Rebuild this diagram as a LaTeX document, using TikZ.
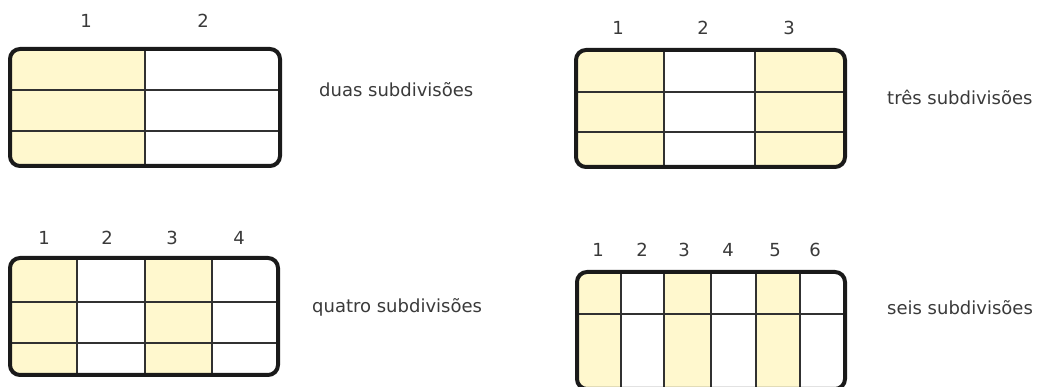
\documentclass[tikz,border=0pt]{standalone}
\usepackage{fontspec}
\setmainfont{DejaVu Sans}
\definecolor{cellfill}{HTML}{FFF8CE}
\definecolor{ink}{HTML}{1A1A1A}
\definecolor{txt}{HTML}{3A3A3A}
\tikzset{
  frame/.style={draw=ink, line width=4pt, rounded corners=10pt},
  gridline/.style={draw=ink!90, line width=1.3pt},
  num/.style={font=\fontsize{18}{21}\selectfont, text=txt, anchor=base, inner sep=0pt},
  caption/.style={font=\fontsize{18}{21}\selectfont, text=txt, anchor=base west, inner sep=0pt},
}
% #1,#2 top-left  #3,#4 bottom-right  #5 column dividers  #6 row lines  #7 shaded spans (a/b)
\newcommand\subgrid[7]{%
  \begin{scope}
    \clip[rounded corners=10pt] (#1,#2) rectangle (#3,#4);
    \foreach \a/\b in {#7} { \fill[cellfill] (\a,#2) rectangle (\b,#4); }
    \foreach \v in {#5} { \draw[gridline] (\v,#2) -- (\v,#4); }
    \foreach \h in {#6} { \draw[gridline] (#1,\h) -- (#3,\h); }
  \end{scope}
  \draw[frame] (#1,#2) rectangle (#3,#4);
}
\begin{document}
\begin{tikzpicture}[x=1pt, y=-1pt]
  \useasboundingbox[fill=white] (0,0) rectangle (1037,387);

  % two columns
  \subgrid{10}{49}{280}{166}{145}{90,131}{10/145}
  \node[num] (a1) at (86,28) {1};
  \node[num] (a2) at (203,28) {2};
  \node[caption] (ca) at (319,97) {duas subdivisões};

  % three columns
  \subgrid{576}{50}{845}{167}{664,755}{92,132}{576/664,755/845}
  \node[num] (b1) at (618,35) {1};
  \node[num] (b2) at (703,35) {2};
  \node[num] (b3) at (789,35) {3};
  \node[caption] (cb) at (887,105) {três subdivisões};

  % four columns
  \subgrid{10}{258}{278}{375}{77,145,212}{302,343}{10/77,145/212}
  \node[num] (c1) at (44,245) {1};
  \node[num] (c2) at (107,245) {2};
  \node[num] (c3) at (172,245) {3};
  \node[num] (c4) at (239,245) {4};
  \node[caption] (cc) at (312,313) {quatro subdivisões};

  % six columns
  \subgrid{577}{272}{845}{389}{621,664,711,756,800}{314}{577/621,664/711,756/800}
  \node[num] (d1) at (598,257) {1};
  \node[num] (d2) at (642,257) {2};
  \node[num] (d3) at (684,257) {3};
  \node[num] (d4) at (728,257) {4};
  \node[num] (d5) at (775,257) {5};
  \node[num] (d6) at (815,257) {6};
  \node[caption] (cd) at (887,315) {seis subdivisões};
\end{tikzpicture}
\end{document}
